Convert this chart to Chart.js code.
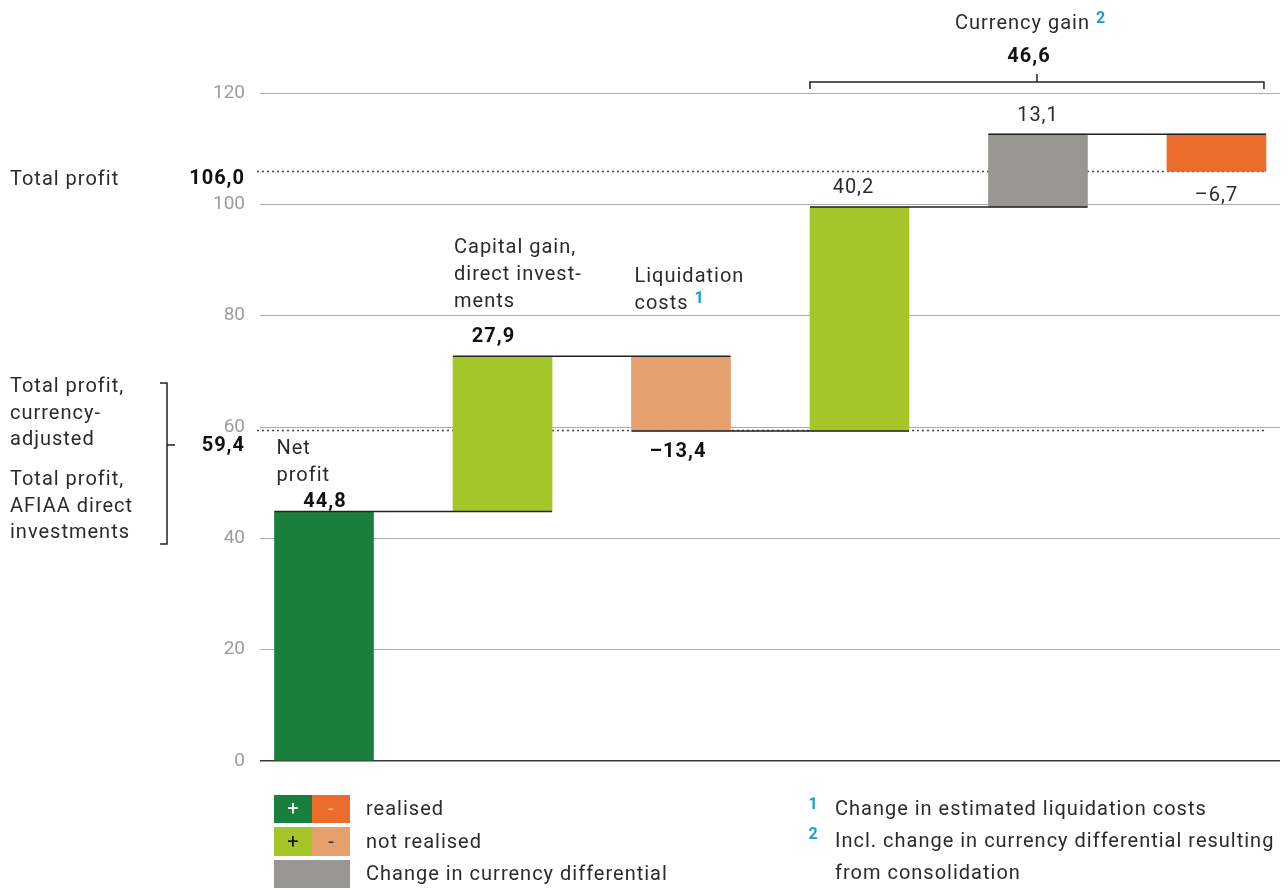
<!DOCTYPE html>
<html>
<head>
<meta charset="utf-8">
<script src="https://cdn.jsdelivr.net/npm/chart.js@4.4.1/dist/chart.umd.min.js"></script>
<style>
  html, body { margin: 0; background: #fff; }
  #wrap { width: 1288px; height: 890px; }
</style>
</head>
<body>
<div id="wrap"><canvas id="waterfall" width="1288" height="890"></canvas></div>
<script>
// ─── DATA ──────────────────────────────────────────────
const stepNames   = ['Net profit', 'Capital gain, direct investments', 'Liquidation costs',
                     'Capital gain, other', 'Currency differential', 'Currency loss'];
const stepValues  = [44.8, 27.9, -13.4, 40.2, 13.1, -6.7];
const stepColors  = ['#1a7f3c', '#a5c629', '#e6a06d', '#a5c629', '#979691', '#ec6d2b'];
const totalLines  = [106.0, 59.4];   // total profit, currency-adjusted total
const currencyGain = 46.6;
const yTicks      = [0, 20, 40, 60, 80, 100, 120];

// running totals -> floating bars [from, to]
let running = 0;
const floating = stepValues.map((v, i) => {
  const from = running;
  running = +(running + v).toFixed(1);
  return { x: i, y: [from, running] };
});

const FONT  = 'Roboto, "DejaVu Sans", sans-serif';
const INK   = '#2b2b2b';
const BLUE  = '#1a9fca';
const fmt   = v => (v < 0 ? '–' : '') + Math.abs(v).toFixed(1).replace('.', ',');

// text helper; y is the visual middle of the line
function txt(ctx, s, x, y, o = {}) {
  ctx.save();
  ctx.font = `${o.weight || 400} ${o.size || 20}px ${FONT}`;
  ctx.letterSpacing = (o.spacing != null ? o.spacing : 1) + 'px';
  ctx.fillStyle = o.color || INK;
  ctx.textAlign = o.align || 'left';
  ctx.textBaseline = 'middle';
  ctx.fillText(s, x, y + 2);
  const w = ctx.measureText(s).width;
  ctx.restore();
  return w;
}

function hline(ctx, x1, x2, y, color, width, dash) {
  ctx.save();
  ctx.strokeStyle = color;
  ctx.lineWidth = width;
  if (dash) ctx.setLineDash(dash);
  ctx.beginPath();
  ctx.moveTo(x1, y);
  ctx.lineTo(x2, y);
  ctx.stroke();
  ctx.restore();
}

// ─── PLUGIN: totals, connectors, labels, legend ────────
const waterfallDecor = {
  id: 'waterfallDecor',

  beforeDatasetsDraw(chart) {
    const { ctx, scales: { y } } = chart;
    const bars = chart.getDatasetMeta(0).data;
    const right = bars[bars.length - 1].x + bars[bars.length - 1].width / 2;
    totalLines.forEach(v => hline(ctx, 257, right, Math.round(y.getPixelForValue(v)) + 0.5, '#444', 1.5, [2, 3]));
  },

  afterDatasetsDraw(chart) {
    const { ctx, chartArea, scales: { y } } = chart;
    const bars = chart.getDatasetMeta(0).data;
    const left  = b => b.x - b.width / 2;
    const right = b => b.x + b.width / 2;
    const top   = b => Math.min(b.y, b.base);
    const bot   = b => Math.max(b.y, b.base);

    // connectors between consecutive steps
    for (let i = 0; i < bars.length - 1; i++) {
      const yy = y.getPixelForValue(floating[i].y[1]);
      hline(ctx, left(bars[i]), right(bars[i + 1]), yy, '#222', 1.5);
    }

    // value labels
    const lab = [
      { bold: true,  dx: 1,  dy: -12 },
      { bold: true,  dx: -9, dy: -21 },
      { bold: true,  dx: -3, dy: 19 },
      { bold: false, dx: -6, dy: -21 },
      { bold: false, dx: 0,  dy: -20 },
      { bold: false, dx: 0,  dy: 23 },
    ];
    stepValues.forEach((v, i) => {
      const b = bars[i];
      const yy = v >= 0 ? top(b) + lab[i].dy : bot(b) + lab[i].dy;
      txt(ctx, fmt(v), b.x + lab[i].dx, yy, {
        align: 'center', weight: lab[i].bold ? 700 : 400, color: lab[i].bold ? '#111' : INK,
      });
    });

    // step names
    txt(ctx, 'Net', left(bars[0]) + 2, top(bars[0]) - 65);
    txt(ctx, 'profit', left(bars[0]) + 2, top(bars[0]) - 38);
    ['Capital gain,', 'direct invest-', 'ments'].forEach((s, k) =>
      txt(ctx, s, left(bars[1]) + 1, top(bars[1]) - 110 + k * 27));
    txt(ctx, 'Liquidation', left(bars[2]) + 3, top(bars[2]) - 81);
    const wc = txt(ctx, 'costs ', left(bars[2]) + 3, top(bars[2]) - 54);
    txt(ctx, '1', left(bars[2]) + 3 + wc, top(bars[2]) - 59, { weight: 700, size: 16, color: BLUE, spacing: 0 });

    // currency gain bracket over the last three steps
    const bx1 = left(bars[3]), bx2 = right(bars[5]) - 2;
    const by = chartArea.top - 11;
    const mid = (bx1 + bx2) / 2;
    ctx.save();
    ctx.strokeStyle = '#222';
    ctx.lineWidth = 1.5;
    ctx.beginPath();
    ctx.moveTo(bx1, by + 7); ctx.lineTo(bx1, by); ctx.lineTo(bx2, by); ctx.lineTo(bx2, by + 7);
    ctx.moveTo(mid, by); ctx.lineTo(mid, by - 8);
    ctx.stroke();
    ctx.restore();
    txt(ctx, fmt(currencyGain), mid - 8, by - 27, { align: 'center', weight: 700, color: '#111' });
    const wg = txt(ctx, 'Currency gain ', 955, 22);
    txt(ctx, '2', 955 + wg, 17, { weight: 700, size: 16, color: BLUE, spacing: 0 });

    // totals on the left
    const yTot = y.getPixelForValue(totalLines[0]);
    const yAdj = y.getPixelForValue(totalLines[1]);
    txt(ctx, 'Total profit', 10, yTot + 7);
    txt(ctx, fmt(totalLines[0]), 245, yTot + 6, { align: 'right', weight: 700, color: '#111' });
    txt(ctx, fmt(totalLines[1]), 245, yAdj + 14, { align: 'right', weight: 700, color: '#111' });
    ['Total profit,', 'currency-', 'adjusted'].forEach((s, k) => txt(ctx, s, 10, 385 + k * 26.5));
    ['Total profit,', 'AFIAA direct', 'investments'].forEach((s, k) => txt(ctx, s, 10, 478 + k * 26.5));
    ctx.save();
    ctx.strokeStyle = '#222';
    ctx.lineWidth = 1.5;
    ctx.beginPath();
    ctx.moveTo(160, 383); ctx.lineTo(167, 383); ctx.lineTo(167, 544); ctx.lineTo(160, 544);
    ctx.moveTo(167, 445); ctx.lineTo(175, 445);
    ctx.stroke();
    ctx.restore();

    // legend swatches
    const sw = [
      { x: 274, y: 795, w: 38, h: 28, c: stepColors[0], t: '+', tc: '#fff' },
      { x: 312, y: 795, w: 38, h: 28, c: stepColors[5], t: '-', tc: '#f6c3a0' },
      { x: 274, y: 827, w: 38, h: 29, c: stepColors[1], t: '+', tc: '#111' },
      { x: 312, y: 827, w: 38, h: 29, c: stepColors[2], t: '-', tc: '#333' },
      { x: 274, y: 860, w: 76, h: 28, c: stepColors[4], t: '',  tc: '#fff' },
    ];
    sw.forEach(s => {
      ctx.fillStyle = s.c;
      ctx.fillRect(s.x, s.y, s.w, s.h);
      if (s.t) txt(ctx, s.t, s.x + s.w / 2, s.y + s.h / 2 - 1, { align: 'center', color: s.tc, spacing: 0 });
    });
    txt(ctx, 'realised', 366, 808);
    txt(ctx, 'not realised', 366, 841);
    txt(ctx, 'Change in currency differential', 366, 873);

    // footnotes
    txt(ctx, '1', 813, 803, { align: 'center', weight: 700, size: 16, color: BLUE, spacing: 0 });
    txt(ctx, 'Change in estimated liquidation costs', 835, 808);
    txt(ctx, '2', 813, 833, { align: 'center', weight: 700, size: 16, color: BLUE, spacing: 0 });
    txt(ctx, 'Incl. change in currency differential resulting', 835, 840);
    txt(ctx, 'from consolidation', 835, 872);
  },
};

new Chart(document.getElementById('waterfall'), {
  type: 'bar',
  data: {
    labels: stepNames,
    datasets: [{
      data: floating,
      backgroundColor: stepColors,
      borderWidth: 0,
      barThickness: 99,
    }],
  },
  options: {
    responsive: false,
    animation: false,
    devicePixelRatio: 1,
    layout: { padding: { top: 93, bottom: 129, left: 0, right: 8 } },
    plugins: { legend: { display: false }, tooltip: { enabled: false } },
    scales: {
      x: { type: 'linear', offset: false, min: -0.3585, max: 5.356, display: false },
      y: {
        min: yTicks[0],
        max: yTicks[yTicks.length - 1],
        afterFit: s => { s.width = 260; },
        afterBuildTicks: s => { s.ticks = yTicks.map(v => ({ value: v })); },
        border: { display: false },
        grid: {
          drawTicks: false,
          color: c => c.tick && c.tick.value === 0 ? '#3a3a3a' : '#ababab',
          lineWidth: c => c.tick && c.tick.value === 0 ? 1.5 : 1,
        },
        ticks: { padding: 15, color: '#9d9d9d', font: { family: FONT, size: 19 } },
      },
    },
  },
  plugins: [waterfallDecor],
});
</script>
</body>
</html>
